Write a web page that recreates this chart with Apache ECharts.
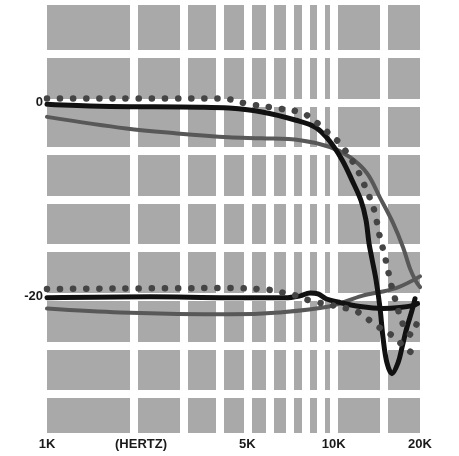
<!DOCTYPE html>
<html>
<head>
<meta charset="utf-8">
<script src="https://cdn.jsdelivr.net/npm/echarts@6/dist/echarts.min.js"></script>
<style>
html,body{margin:0;padding:0;background:#fff}
#main{width:459px;height:456px}
</style>
</head>
<body>
<div id="main"></div>
<script>
// grid lines and tick labels
var gridFreqs=[2000,3000,4000,5000,6000,7000,8000,9000,10000,15000];
var freqTicks=[1000,5000,10000,20000];
var freqLabels=['1K','5K','10K','20K'];
var dbGrid=[5,0,-5,-10,-15,-20,-25,-30];
var dbTicks=[0,-20];

// curves, [Hz, dB]
var upperBlack=[[1000,-0.2],[1530,-0.4],[3420,-0.5],[4310,-0.6],[5620,-1.0],[7390,-1.85],[8670,-2.6],[9630,-3.9],[10690,-5.9],[11580,-8.0],[12450,-10.1],[12960,-12.1],[13280,-14.5],[13600,-16.1],[14040,-18.2],[14500,-21.1],[14860,-24.2],[15340,-26.8],[15970,-27.9],[16760,-26.8],[17310,-25.2],[18020,-23.1],[18760,-21.4],[19210,-20.2]];
var upperGray=[[1000,-1.5],[1890,-2.7],[2840,-3.2],[4310,-3.6],[5620,-3.7],[7630,-3.9],[9710,-4.6],[11400,-5.65],[13070,-7.3],[14500,-9.8],[16100,-12.4],[17450,-14.9],[18460,-17.1],[19360,-18.4],[20000,-19.0]];
var upperDots=[[1000,0.4],[4050,0.4],[5070,-0.2],[6290,-0.6],[7770,-1.1],[8820,-2.2],[9940,-3.6],[10500,-4.2],[11870,-6.5],[12880,-8.7],[13850,-11.1],[14400,-13.5],[15100,-15.9],[15800,-18.5],[16400,-20.3],[17000,-21.9],[17700,-23.2],[18600,-23.9],[19400,-22.9],[20000,-21.8]];
var lowerBlack=[[1000,-20.1],[2290,-20.0],[4310,-20.1],[6760,-20.1],[7630,-19.9],[8260,-19.6],[8820,-19.7],[9400,-20.2],[10560,-20.6],[12350,-21.0],[14860,-21.2],[17000,-21.1],[18900,-20.9],[19600,-20.7]];
var lowerGray=[[1000,-21.2],[1800,-21.6],[4310,-21.8],[6450,-21.6],[9630,-21.0],[12550,-19.9],[16500,-19.1],[20000,-17.9]];
var lowerDots=[[1000,-19.2],[4310,-19.1],[6060,-19.3],[6700,-19.6],[7440,-19.9],[8300,-20.4],[11500,-21.3],[12550,-21.8],[13830,-22.8],[16200,-24.1],[18000,-25.4],[20000,-26.2]];

var labelFont={color:'#1a1a1a',fontFamily:'Liberation Sans',fontWeight:'bold',fontSize:13};

function solid(name,data,color,width){
  return {name:name,type:'line',data:data,smooth:0.35,showSymbol:false,
    lineStyle:{color:color,width:width,cap:'round',join:'round'},z:2};
}
function dotted(name,data){
  return {name:name,type:'line',data:data,smooth:0.35,showSymbol:false,
    lineStyle:{color:'#454545',width:6.5,type:[0.1,13],cap:'round'},z:3};
}

var myChart=echarts.init(document.getElementById('main'));
myChart.setOption({
  animation:false,
  backgroundColor:'#fff',
  grid:{left:47,right:39,top:5,bottom:23,show:true,backgroundColor:'#a9a9a9',borderWidth:0,outerBoundsMode:'none',containLabel:false},
  xAxis:[
    {type:'log',logBase:10,min:1000,max:20000,show:false,position:'bottom'},
    {type:'value',min:3,max:Math.log10(20000),position:'bottom',
      axisLine:{show:false},
      axisTick:{show:false,customValues:gridFreqs.map(function(f){return Math.log10(f)})},
      splitLine:{show:true,lineStyle:{color:'#fff',width:8}},
      axisLabel:Object.assign({margin:5,
        customValues:freqTicks.map(function(f){return Math.log10(f)}),
        formatter:function(v){
          for(var i=0;i<freqTicks.length;i++){if(Math.abs(Math.log10(freqTicks[i])-v)<1e-6)return freqLabels[i];}
          return '';
        }},labelFont)}
  ],
  yAxis:{type:'value',min:-34,max:10,
    axisLine:{show:false},
    axisTick:{show:false,customValues:dbGrid},
    splitLine:{show:true,lineStyle:{color:'#fff',width:8}},
    axisLabel:Object.assign({margin:4,customValues:dbTicks},labelFont)},
  graphic:[{type:'text',left:115,top:438,style:{text:'(HERTZ)',fill:'#1a1a1a',font:'bold 13px "Liberation Sans"'}}],
  series:[
    solid('upper gray',upperGray,'#585858',4),
    solid('lower gray',lowerGray,'#585858',4),
    solid('upper black',upperBlack,'#111',5),
    solid('lower black',lowerBlack,'#111',5),
    dotted('upper dotted',upperDots),
    dotted('lower dotted',lowerDots)
  ]
});
</script>
</body>
</html>
